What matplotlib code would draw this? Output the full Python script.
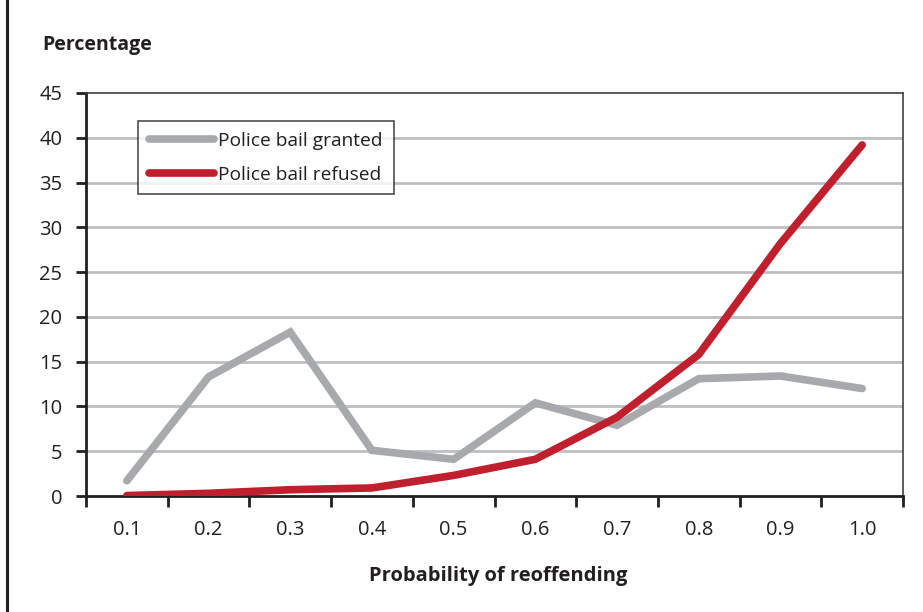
import numpy as np
import matplotlib
matplotlib.use("Agg")
import matplotlib.pyplot as plt
from matplotlib.lines import Line2D

plt.rcParams['font.family'] = ['Open Sans', 'DejaVu Sans']

categories = ['0.1', '0.2', '0.3', '0.4', '0.5', '0.6', '0.7', '0.8', '0.9', '1.0']
bail_granted = [1.7, 13.3, 18.3, 5.1, 4.1, 10.4, 7.9, 13.1, 13.4, 12.0]
bail_refused = [0.05, 0.3, 0.7, 0.9, 2.3, 4.1, 8.8, 15.8, 28.2, 39.2]
y_ticks = [0, 5, 10, 15, 20, 25, 30, 35, 40, 45]

fig = plt.figure(figsize=(9.23, 6.12), dpi=100)
ax = fig.add_axes([86 / 923, 1 - 496 / 612, 817 / 923, 403 / 612])

x = np.arange(len(categories))
ax.plot(x, bail_granted, color='#a7a9ac', lw=5.5, solid_capstyle='round',
        solid_joinstyle='miter', label='Police bail granted', zorder=3)
ax.plot(x, bail_refused, color='#c01f2e', lw=5.5, solid_capstyle='round',
        solid_joinstyle='miter', label='Police bail refused', zorder=4)

ax.set_xlim(-0.5, len(categories) - 0.5)
ax.set_ylim(0, 45)
ax.set_yticks(y_ticks)
ax.set_yticklabels([str(v) for v in y_ticks], fontsize=14.5, color='#231f20')
ax.set_xticks(x)
ax.set_xticklabels(categories, fontsize=14.5, color='#231f20')
ax.tick_params(axis='x', which='major', length=0, pad=17)
ax.set_xticks(np.arange(-0.5, len(categories)), minor=True)
ax.tick_params(axis='x', which='minor', length=8, width=2, color='#231f20', direction='out')
ax.tick_params(axis='y', length=7, width=2, color='#231f20', direction='out', pad=10)

for yv in y_ticks[1:-1]:
    ax.axhline(yv, color='#bcbec0', lw=2, zorder=1)

for side in ['left', 'bottom']:
    ax.spines[side].set_color('#231f20')
    ax.spines[side].set_linewidth(2)
for side in ['top', 'right']:
    ax.spines[side].set_color('#414042')
    ax.spines[side].set_linewidth(1.2)

leg = ax.legend(loc='upper left', bbox_to_anchor=(52 / 817, 1 - 28 / 403),
                fontsize=13.8, frameon=True, fancybox=False, handlelength=3.4,
                handletextpad=0.25, borderpad=0.55, labelspacing=0.85,
                borderaxespad=0)
leg.get_frame().set_edgecolor('#231f20')
leg.get_frame().set_linewidth(1.2)
for t in leg.get_texts():
    t.set_color('#231f20')

fig.text(42 / 923, 1 - 45 / 612, 'Percentage', fontsize=14, fontweight='bold',
         va='center', ha='left', color='#231f20')
fig.text(498 / 923, 1 - 576 / 612, 'Probability of reoffending', fontsize=14.5,
         fontweight='bold', va='center', ha='center', color='#231f20')

fig.add_artist(Line2D([7.5 / 923, 7.5 / 923], [0, 1], color='#231f20', lw=2.2,
                      transform=fig.transFigure))

fig.savefig('out.png', dpi=100)
